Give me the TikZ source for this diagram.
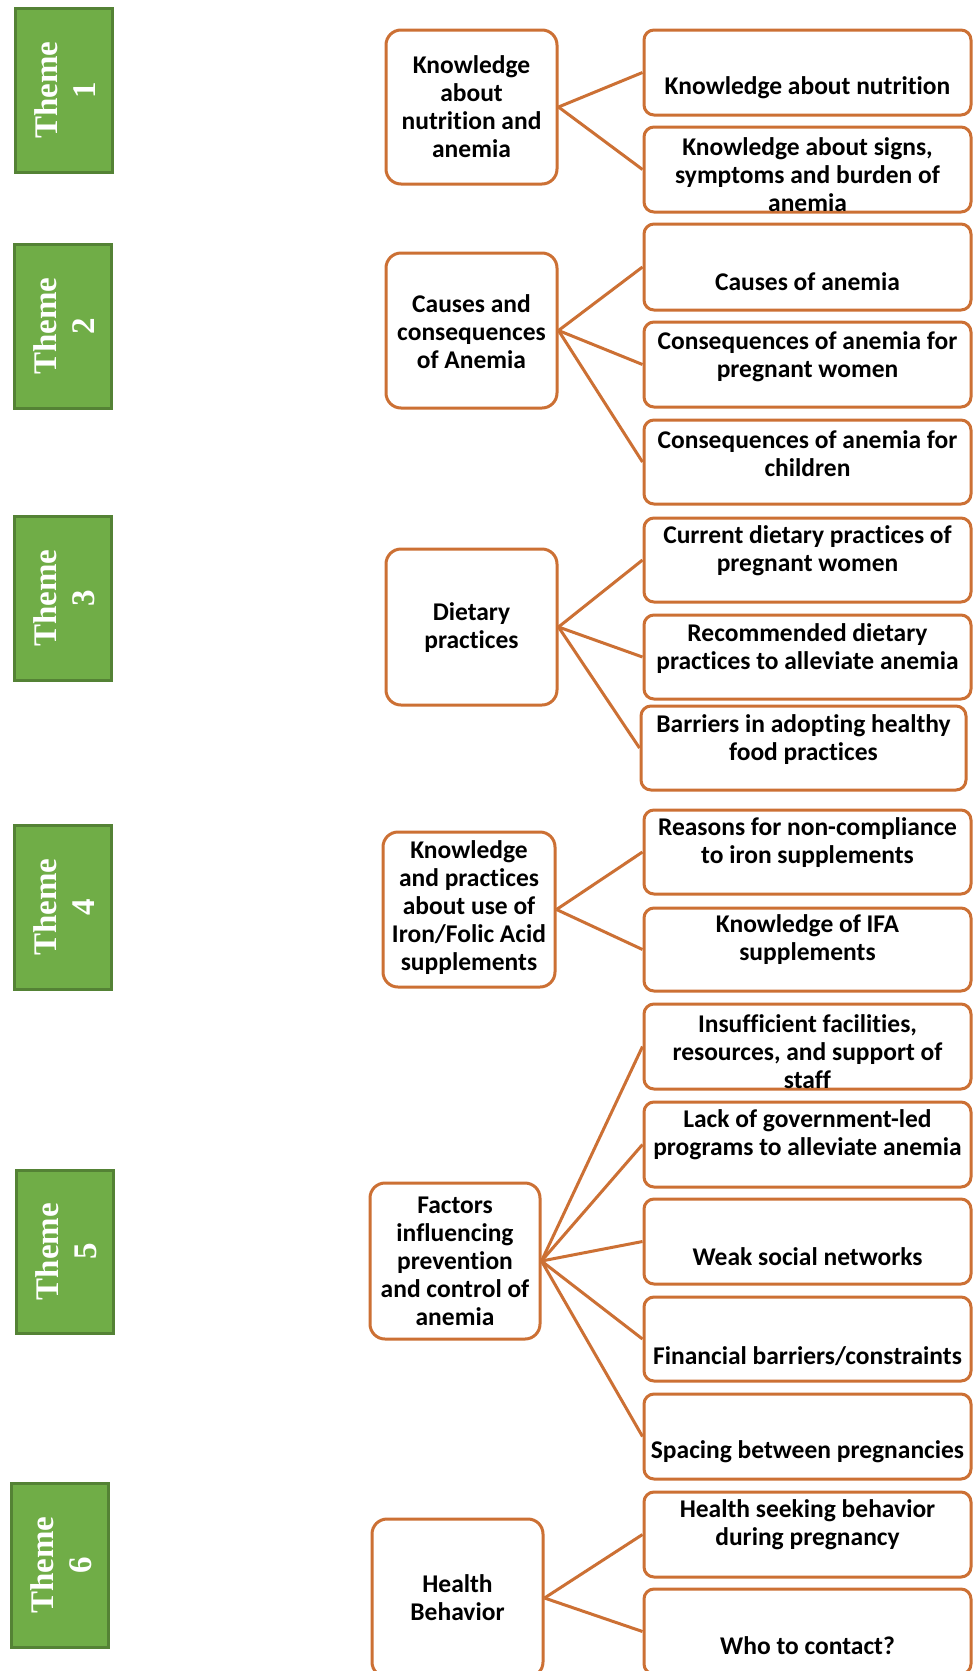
\documentclass[tikz,border=0pt]{standalone}
\usepackage{fontspec}
\setmainfont{Carlito}[RawFeature=-liga]
\newfontfamily\tnrfont{Liberation Serif}
\definecolor{orng}{RGB}{204,112,52}
\definecolor{grfill}{RGB}{112,173,71}
\definecolor{grline}{RGB}{84,130,53}
\newcommand\mkbox[6]{%
  \pgfmathsetmacro\cx{(#3+#5)/2}%
  \pgfmathsetmacro\cy{(#4+#6)/2}%
  \pgfmathsetmacro\ww{#5-#3}%
  \pgfmathsetmacro\hh{#6-#4}%
  \node[#1, minimum width=\ww pt, minimum height=\hh pt] (#2) at (\cx,\cy) {};}
\tikzset{
  rbox/.style={draw=orng, line width=3pt, rounded corners=10pt, fill=white, inner sep=0pt},
  mbox/.style={draw=orng, line width=3pt, rounded corners=15pt, fill=white, inner sep=0pt},
  thbox/.style={draw=grline, line width=3pt, fill=grfill, inner sep=0pt},
  txt/.style={align=center, inner sep=0pt, font=\bfseries\fontsize{25.5}{28}\selectfont},
  thtxt/.style={align=center, inner sep=0pt, text=white, rotate=90, font=\tnrfont\bfseries\fontsize{33}{38}\selectfont},
  conn/.style={draw=orng, line width=3pt}
}
\begin{document}
\begin{tikzpicture}[x=1pt,y=-1pt]
\clip (0,0) rectangle (978,1671);
\fill[white] (0,0) rectangle (978,1671);
% theme boxes
\mkbox{thbox}{t1}{15}{8}{112}{172}
\mkbox{thbox}{t2}{14}{244}{111}{408}
\mkbox{thbox}{t3}{14}{516}{111}{680}
\mkbox{thbox}{t4}{14}{825}{111}{989}
\mkbox{thbox}{t5}{16}{1170}{113}{1333}
\mkbox{thbox}{t6}{11}{1483}{108}{1647}
\node[thtxt] (t1t) at ([xshift=2pt]t1.center) {Theme\\1};
\node[thtxt] (t2t) at ([xshift=2pt]t2.center) {Theme\\2};
\node[thtxt] (t3t) at ([xshift=2pt]t3.center) {Theme\\3};
\node[thtxt] (t4t) at ([xshift=2pt]t4.center) {Theme\\4};
\node[thtxt] (t5t) at ([xshift=2pt]t5.center) {Theme\\5};
\node[thtxt] (t6t) at ([xshift=2pt]t6.center) {Theme\\6};
% middle boxes
\mkbox{mbox}{m1}{386}{30}{557}{184}
\mkbox{mbox}{m2}{386}{253}{557}{408}
\mkbox{mbox}{m3}{386}{549}{557}{705}
\mkbox{mbox}{m4}{383}{832}{555}{987}
\mkbox{mbox}{m5}{370}{1183}{540}{1339}
\mkbox{mbox}{m6}{372}{1519}{543}{1677}
% right boxes
\mkbox{rbox}{r1}{644}{30}{971}{115}
\mkbox{rbox}{r2}{644}{127}{971}{212}
\mkbox{rbox}{r3}{644}{224}{971}{310}
\mkbox{rbox}{r4}{644}{322}{971}{407}
\mkbox{rbox}{r5}{644}{420}{971}{504}
\mkbox{rbox}{r6}{644}{518}{971}{602}
\mkbox{rbox}{r7}{644}{615}{971}{699}
\mkbox{rbox}{r8}{641}{706}{966}{790}
\mkbox{rbox}{r9}{644}{810}{971}{894}
\mkbox{rbox}{r10}{644}{908}{971}{991}
\mkbox{rbox}{r11}{644}{1004}{971}{1089}
\mkbox{rbox}{r12}{644}{1102}{971}{1187}
\mkbox{rbox}{r13}{644}{1199}{971}{1284}
\mkbox{rbox}{r14}{644}{1297}{971}{1381}
\mkbox{rbox}{r15}{644}{1394}{971}{1479}
\mkbox{rbox}{r16}{644}{1492}{971}{1577}
\mkbox{rbox}{r17}{644}{1589}{971}{1674}
% connectors
\draw[conn] (m1.east) -- (r1.west);
\draw[conn] (m1.east) -- (r2.west);
\draw[conn] (m2.east) -- (r3.west);
\draw[conn] (m2.east) -- (r4.west);
\draw[conn] (m2.east) -- (r5.west);
\draw[conn] (m3.east) -- (r6.west);
\draw[conn] (m3.east) -- (r7.west);
\draw[conn] (m3.east) -- (r8.west);
\draw[conn] (m4.east) -- (r9.west);
\draw[conn] (m4.east) -- (r10.west);
\draw[conn] (m5.east) -- (r11.west);
\draw[conn] (m5.east) -- (r12.west);
\draw[conn] (m5.east) -- (r13.west);
\draw[conn] (m5.east) -- (r14.west);
\draw[conn] (m5.east) -- (r15.west);
\draw[conn] (m6.east) -- (r16.west);
\draw[conn] (m6.east) -- (r17.west);
% middle texts
\node[txt] (m1t) at (471.5,106.5) {Knowledge\\about\\nutrition and\\anemia};
\node[txt] (m2t) at (471.5,331.5) {Causes and\\consequences\\of Anemia};
\node[txt] (m3t) at (471.5,627.5) {Dietary\\practices};
\node[txt] (m4t) at (469,907.5) {Knowledge\\and practices\\about use of\\Iron/Folic Acid\\supplements};
\node[txt] (m5t) at (455,1261.5) {Factors\\influencing\\prevention\\and control of\\anemia};
\node[txt] (m6t) at (457.5,1598) {Health\\Behavior};
% right texts
\node[txt] (r1t) at (807.5,88) {Knowledge about nutrition};
\node[txt] (r2t) at (807.5,174.5) {Knowledge about signs,\\symptoms and burden of\\anemia};
\node[txt] (r3t) at (807.5,282) {Causes of anemia};
\node[txt] (r4t) at (807.5,356.5) {Consequences of anemia for\\pregnant women};
\node[txt] (r5t) at (807.5,453.5) {Consequences of anemia for\\children};
\node[txt] (r6t) at (807.5,551) {Current dietary practices of\\pregnant women};
\node[txt] (r7t) at (807.5,648.5) {Recommended dietary\\practices to alleviate anemia};
\node[txt] (r8t) at (803.5,739.5) {Barriers in adopting healthy\\food practices};
\node[txt] (r9t) at (807.5,842.5) {Reasons for non-compliance\\to iron supplements};
\node[txt] (r10t) at (807.5,940) {Knowledge of IFA\\supplements};
\node[txt] (r11t) at (807.5,1051.5) {Insufficient facilities,\\resources, and support of\\staff};
\node[txt] (r12t) at (807.5,1135) {Lack of government-led\\programs to alleviate anemia};
\node[txt] (r13t) at (807.5,1257) {Weak social networks};
\node[txt] (r14t) at (807.5,1356) {Financial barriers/constraints};
\node[txt] (r15t) at (807.5,1452) {Spacing between pregnancies};
\node[txt] (r16t) at (807.5,1525) {Health seeking behavior\\during pregnancy};
\node[txt] (r17t) at (807.5,1646) {Who to contact?};
\end{tikzpicture}
\end{document}
